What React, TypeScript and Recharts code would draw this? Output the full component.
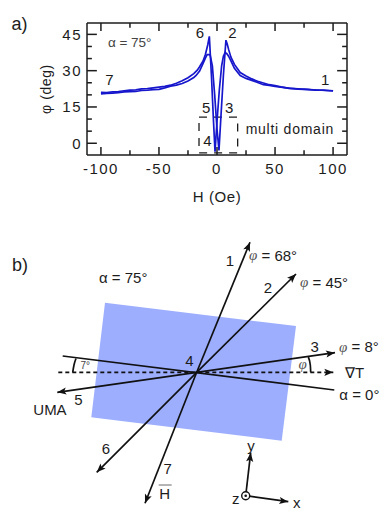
import {
  Area,
  ComposedChart,
  Line,
  LineChart,
  ReferenceArea,
  ReferenceDot,
  XAxis,
  YAxis,
} from "recharts";

// panel a, one sweep from +100 to -100 Oe and the return sweep
const fieldDown = [100, 92, 85, 78, 70, 62, 55, 50, 45, 40, 35, 30, 25, 20, 15, 12, 10, 8.8, 7.7, 5.5, 3.5, 1.7, 0, -2, -4, -6, -8.5, -10, -12, -15, -18, -20, -25, -30, -35, -40, -45, -50, -55, -60, -65, -70, -75, -80, -85, -90, -95, -100];
const phiDown = [21.7, 22, 21.9, 22.3, 22.5, 22.7, 23.3, 23.8, 24.2, 24.9, 25.6, 26.6, 27.8, 29.2, 32.6, 35.6, 38.8, 41, 42.6, 28, 12, -3, 6, 20, 32, 36.6, 36.6, 35.2, 33, 29.8, 28, 27.2, 25.7, 24.7, 24, 23.6, 22.9, 22.3, 22.2, 21.9, 21.8, 21.4, 21.3, 21.2, 20.9, 20.7, 20.6, 20.4];
const fieldUp = [-100, -95, -90, -85, -80, -75, -70, -65, -60, -55, -50, -45, -40, -35, -30, -25, -20, -17, -15, -12, -10, -8, -6.6, -4.8, -3, -1.7, 0, 2, 4, 5.5, 7, 8.5, 10, 12, 15, 20, 25, 30, 35, 40, 45, 50, 55, 60, 70, 80, 90, 100];
const phiUp = [21, 20.9, 21.2, 21.4, 21.7, 22, 22.1, 22.5, 22.6, 22.9, 23.2, 23.5, 24, 24.8, 25.8, 27.1, 28.8, 30.2, 31.6, 34, 36.7, 40.6, 44.2, 28, 9, -3.5, 9, 22, 32, 36, 37.5, 37, 36, 34, 31, 28, 26.8, 26, 25.1, 24.2, 23.9, 23.5, 23.2, 22.9, 22.4, 22.2, 21.9, 21.6];

const xMajor = [-100, -50, 0, 50, 100];
const xMinor = [-75, -25, 25, 75];
const yMajor = [0, 15, 30, 45];
const yMinor = [5, 10, 20, 25, 35, 40];

const zip = (xs: number[], ys: number[]) => xs.map((x, i) => ({ x, y: ys[i] }));
const sweepDown = zip(fieldDown, phiDown);
const sweepUp = zip(fieldUp, phiUp);

type Note = {
  x: number;
  y: number;
  text: string;
  size?: number;
  anchor?: "start" | "middle";
  fill?: string;
  rotate?: number;
  spacing?: number;
  italicFirst?: boolean;
};

const notesA: Note[] = [
  { x: -177, y: 49.4, text: "a)", size: 18, anchor: "start" },
  { x: -14.8, y: 45.8, text: "6" },
  { x: 13.3, y: 45.8, text: "2" },
  { x: -92.6, y: 26.5, text: "7" },
  { x: 93.1, y: 26.5, text: "1" },
  { x: -9.4, y: 14.7, text: "5" },
  { x: 10.4, y: 14.7, text: "3" },
  { x: -8.2, y: 1.2, text: "4" },
  { x: 24.7, y: 5.8, text: "multi domain", anchor: "start", size: 14, spacing: 0.75 },
  { x: -94, y: 41.7, text: "α = 75°", anchor: "start", size: 13.5, fill: "#444" },
  { x: 0, y: -22.1, text: "H (Oe)", size: 15, spacing: 0.6 },
  { x: -147, y: 22.4, text: "φ (deg)", size: 14, rotate: -90, spacing: 0.6 },
];

// panel b, all values in picture pixels
const sheetX = [91.3, 105, 281.7, 296];
const sheetTop = [417.3, 302.7, 324.3, 326];
const sheetBottom = [417.3, 419, 440.7, 326];
const sheet = sheetX.map((x, i) => ({ x, band: [sheetTop[i], sheetBottom[i]] }));

const centre = { x: 196.7, y: 372.3 };
const arrows = [
  { from: centre, to: { x: 250, y: 242.3 } },
  { from: centre, to: { x: 296, y: 274 } },
  { from: centre, to: { x: 335, y: 352.7 } },
  { from: centre, to: { x: 57.3, y: 392.3 } },
  { from: centre, to: { x: 96.7, y: 472.3 } },
  { from: centre, to: { x: 145, y: 503.3 } },
  { from: { x: 245.7, y: 495.7 }, to: { x: 250.7, y: 452.7 } },
  { from: { x: 245.7, y: 495.7 }, to: { x: 288.3, y: 501.7 } },
];
const dashedAxis = { from: { x: 58.3, y: 372.3 }, to: { x: 333.3, y: 372.3 } };
const alphaZero = [{ x: 62.7, y: 356 }, { x: 334.3, y: 390 }];
const sevenArc = [{ x: 76, y: 358.5 }, { x: 74, y: 365 }, { x: 72.7, y: 372.3 }];
const phiArc = [{ x: 308.3, y: 357 }, { x: 310.3, y: 365 }, { x: 310.7, y: 372.3 }];
const hBar = { from: { x: 158.7, y: 485 }, to: { x: 171.7, y: 485 } };

const notesB: Note[] = [
  { x: 12, y: 265, text: "b)", size: 18, anchor: "start" },
  { x: 99, y: 277, text: "α = 75°", anchor: "start" },
  { x: 230, y: 260.7, text: "1" },
  { x: 249, y: 255, text: "φ = 68°", anchor: "start", italicFirst: true },
  { x: 268, y: 287, text: "2" },
  { x: 300, y: 282.3, text: "φ = 45°", anchor: "start", italicFirst: true },
  { x: 314.7, y: 346, text: "3" },
  { x: 339, y: 346.7, text: "φ = 8°", anchor: "start", italicFirst: true },
  { x: 345, y: 372.7, text: "∇T", anchor: "start" },
  { x: 339.3, y: 394, text: "α = 0°", anchor: "start" },
  { x: 189.3, y: 360, text: "4" },
  { x: 78.3, y: 399.3, text: "5" },
  { x: 33.3, y: 409, text: "UMA", anchor: "start" },
  { x: 106, y: 448, text: "6" },
  { x: 167.7, y: 468.3, text: "7" },
  { x: 159.3, y: 493.3, text: "H", anchor: "start" },
  { x: 251, y: 445, text: "y" },
  { x: 296.7, y: 502.7, text: "x" },
  { x: 235.7, y: 498.3, text: "z" },
  { x: 85.3, y: 365, text: "7°", size: 10, fill: "#444" },
  { x: 302.7, y: 364, text: "φ", fill: "#444", italicFirst: true },
];

const FONT = "'Liberation Sans', Arial, sans-serif";
const INK = "#1c1c1c";
const BLUE = "#1616cc";
const THIN = 0.001; // recharts skips an axis of size 0
const noLabel = () => <g />;

const renderNote = (n: Note, i: number) => (
  <ReferenceDot
    key={i}
    x={n.x}
    y={n.y}
    r={0}
    ifOverflow="visible"
    shape={(p: { cx: number; cy: number }) => {
      const first = n.italicFirst ? n.text[0] : "";
      const rest = n.italicFirst ? n.text.slice(1) : n.text;
      return (
        <text
          x={p.cx}
          y={p.cy}
          textAnchor={n.anchor ?? "middle"}
          dominantBaseline="central"
          fontFamily={FONT}
          fontSize={n.size ?? 15}
          fill={n.fill ?? INK}
          letterSpacing={n.spacing ?? 0}
          transform={n.rotate ? `rotate(${n.rotate} ${p.cx} ${p.cy})` : undefined}
        >
          {first && <tspan fontStyle="italic" fontFamily="'Liberation Serif', serif" fill="#555">{first}</tspan>}
          {rest}
        </text>
      );
    }}
  />
);

const X_MIN = -112;
const X_MAX = 112;
const Y_MIN = -4.85;
const Y_MAX = 49.7;

// inward ticks on all four sides of the frame, lengths in axis units
const xTick = (x: number, len: number) => [
  [{ x, y: Y_MIN }, { x, y: Y_MIN + len }],
  [{ x, y: Y_MAX }, { x, y: Y_MAX - len }],
];
const yTick = (y: number, len: number) => [
  [{ x: X_MIN, y }, { x: X_MIN + len, y }],
  [{ x: X_MAX, y }, { x: X_MAX - len, y }],
];
const tickSegments = [
  ...xMajor.flatMap((x) => xTick(x, 3.3)),
  ...xMinor.flatMap((x) => xTick(x, 2)),
  ...yMajor.flatMap((y) => yTick(y, 8.5)),
  ...yMinor.flatMap((y) => yTick(y, 4.2)),
];

function PanelA() {
  const tickFont = { fontSize: 15, fill: INK, fontFamily: FONT, letterSpacing: 1.5 };
  const line = { stroke: INK, strokeWidth: 1.5 };
  const xDomain: [number, number] = [X_MIN, X_MAX];
  const yDomain: [number, number] = [Y_MIN, Y_MAX];
  const xShared = { type: "number" as const, dataKey: "x", domain: xDomain, allowDataOverflow: true, interval: 0 as const, height: THIN };
  const yShared = { type: "number" as const, domain: yDomain, allowDataOverflow: true, interval: 0 as const, width: THIN };
  return (
    <LineChart width={388} height={215} margin={{ top: 23, right: 41, bottom: 60, left: 87 }}>
      <XAxis xAxisId={0} {...xShared} ticks={xMajor} tickSize={0} tickMargin={8} tick={tickFont} axisLine={line} tickLine={false} />
      <XAxis xAxisId="top" orientation="top" {...xShared} ticks={xMajor} tick={noLabel} axisLine={line} tickLine={false} />
      <YAxis yAxisId={0} {...yShared} dataKey="y" ticks={yMajor} tickSize={0} tickMargin={5} tick={tickFont} axisLine={line} tickLine={false} />
      <YAxis yAxisId="right" orientation="right" {...yShared} ticks={yMajor} tick={noLabel} axisLine={line} tickLine={false} />
      {tickSegments.map((segment, i) => (
        <Line key={i} data={segment} dataKey="y" type="linear" stroke={INK} strokeWidth={1.5} dot={false} isAnimationActive={false} />
      ))}
      <ReferenceArea x1={-15.5} x2={17.8} y1={-4} y2={10.8} fill="none" stroke={INK} strokeWidth={1.3} strokeDasharray="8 7" ifOverflow="visible" />
      <Line data={sweepDown} dataKey="y" type="linear" stroke={BLUE} strokeWidth={1.7} dot={false} isAnimationActive={false} />
      <Line data={sweepUp} dataKey="y" type="linear" stroke={BLUE} strokeWidth={1.7} dot={false} isAnimationActive={false} />
      {notesA.map(renderNote)}
    </LineChart>
  );
}

type Pt = { x: number; y: number };

// arrow head drawn at the point the scale gives for the tip
const headDot = (from: Pt, to: Pt) => (p: { cx: number; cy: number; index: number }) => {
  if (p.index !== 1) return <g key={p.index} />;
  const deg = (Math.atan2(to.y - from.y, to.x - from.x) * 180) / Math.PI;
  return (
    <polygon
      key={p.index}
      points="0,0 -9,-3.6 -7,0 -9,3.6"
      fill="#111"
      transform={`translate(${p.cx} ${p.cy}) rotate(${deg})`}
    />
  );
};

function PanelB() {
  const plain = { stroke: "#111", strokeWidth: 1.7, dot: false, isAnimationActive: false };
  return (
    <ComposedChart data={sheet} width={388} height={319} margin={{ top: 0, right: 0, bottom: 0, left: 0 }}>
      <XAxis hide type="number" dataKey="x" domain={[0, 388]} allowDataOverflow />
      <YAxis hide type="number" domain={[200, 519]} reversed allowDataOverflow />
      <Area dataKey="band" type="linear" fill="#9daeff" fillOpacity={1} stroke="none" dot={false} activeDot={false} isAnimationActive={false} />
      <Line data={alphaZero} dataKey="y" type="linear" {...plain} />
      <Line data={[dashedAxis.from, dashedAxis.to]} dataKey="y" type="linear" {...plain} strokeDasharray="4 3" dot={headDot(dashedAxis.from, dashedAxis.to)} />
      {arrows.map((a, i) => (
        <Line key={i} data={[a.from, a.to]} dataKey="y" type="linear" {...plain} dot={headDot(a.from, a.to)} />
      ))}
      <Line data={sevenArc} dataKey="y" type="monotone" {...plain} />
      <Line data={phiArc} dataKey="y" type="monotone" {...plain} />
      <Line data={[hBar.from, hBar.to]} dataKey="y" type="linear" {...plain} strokeWidth={0.8} stroke="#444" />
      <ReferenceDot x={245.7} y={495.7} r={4} fill="#fff" stroke="#111" strokeWidth={1.4} ifOverflow="visible" />
      <ReferenceDot x={245.7} y={495.7} r={1.3} fill="#111" stroke="none" ifOverflow="visible" />
      {notesB.map(renderNote)}
    </ComposedChart>
  );
}

export default function App() {
  return (
    <div style={{ position: "absolute", left: 0, top: 0, width: 388, height: 519, background: "#fff", overflow: "hidden" }}>
      <div style={{ position: "absolute", left: 0, top: 0 }}>
        <PanelA />
      </div>
      <div style={{ position: "absolute", left: 0, top: 200 }}>
        <PanelB />
      </div>
    </div>
  );
}
